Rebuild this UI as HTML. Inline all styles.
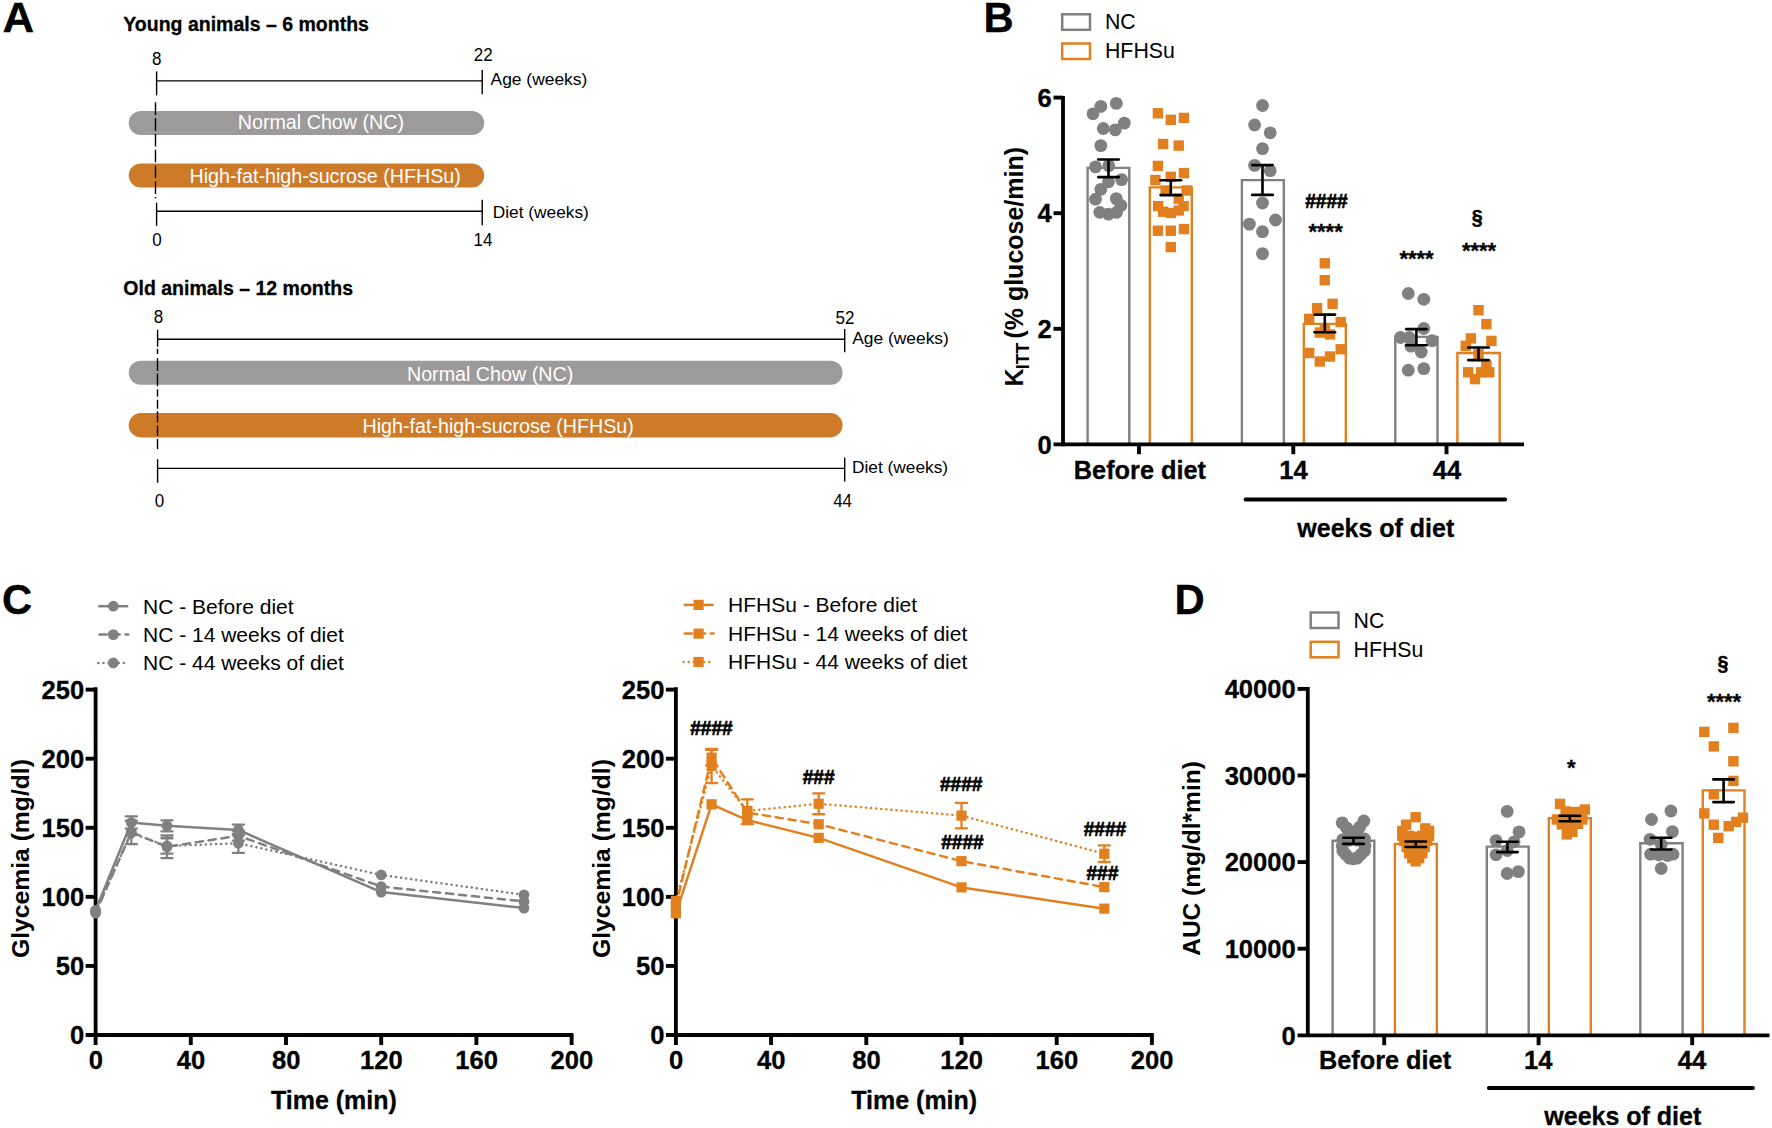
<!DOCTYPE html>
<html><head><meta charset="utf-8"><title>Figure</title>
<style>html,body{margin:0;padding:0;background:#fff}svg{display:block}text{font-family:"Liberation Sans",Arial,Helvetica,sans-serif}</style>
</head><body>
<svg width="1772" height="1128" viewBox="0 0 1772 1128">
<rect width="1772" height="1128" fill="#fff"/>
<text x="2.6" y="32.3" font-size="41.8" font-weight="bold" stroke="#000" stroke-width="0.3" textLength="31.7" lengthAdjust="spacingAndGlyphs">A</text>
<text x="983.6" y="32.3" font-size="41.8" font-weight="bold" stroke="#000" stroke-width="0.3">B</text>
<text x="2" y="614.2" font-size="41.8" font-weight="bold" stroke="#000" stroke-width="0.3">C</text>
<text x="1174.4" y="614.2" font-size="41.8" font-weight="bold" stroke="#000" stroke-width="0.3">D</text>
<text x="123.3" y="31.3" font-size="19.5" font-weight="bold" stroke="#000" stroke-width="0.3">Young animals – 6 months</text>
<text transform="translate(156.8 64.5) scale(1 1.04)" font-size="17" text-anchor="middle">8</text>
<text transform="translate(483.2 61.2) scale(1 1.04)" font-size="17" text-anchor="middle">22</text>
<line x1="156.6" y1="80.9" x2="482.2" y2="80.9" stroke="#000" stroke-width="1.4"/>
<line x1="482.2" y1="70" x2="482.2" y2="94.3" stroke="#000" stroke-width="1.4"/>
<text x="490.6" y="84.8" font-size="17.4">Age (weeks)</text>
<rect x="128.7" y="110.9" width="355.5" height="24.2" fill="#9C9A9A" rx="12.1"/>
<rect x="128.7" y="163.4" width="355.5" height="24.2" fill="#CE7B29" rx="12.1"/>
<text x="320.9" y="129.2" font-size="19.7" text-anchor="middle" fill="#fff">Normal Chow (NC)</text>
<text x="325.2" y="182.7" font-size="19.7" text-anchor="middle" fill="#fff">High-fat-high-sucrose (HFHSu)</text>
<line x1="156.6" y1="71.4" x2="156.6" y2="95.3" stroke="#000" stroke-width="1.4"/>
<line x1="155.5" y1="102.3" x2="155.5" y2="198.2" stroke="#000" stroke-width="1.4" stroke-dasharray="12.6 3.2"/>
<line x1="156.6" y1="211.2" x2="482.2" y2="211.2" stroke="#000" stroke-width="1.4"/>
<line x1="156.6" y1="202.6" x2="156.6" y2="225.8" stroke="#000" stroke-width="1.4"/>
<line x1="482.2" y1="199.8" x2="482.2" y2="225.2" stroke="#000" stroke-width="1.4"/>
<text x="492.8" y="218" font-size="17.3">Diet (weeks)</text>
<text transform="translate(157 246.4) scale(1 1.04)" font-size="17" text-anchor="middle">0</text>
<text transform="translate(482.9 246.4) scale(1 1.04)" font-size="17" text-anchor="middle">14</text>
<text x="123.3" y="294.8" font-size="19.5" font-weight="bold" stroke="#000" stroke-width="0.3">Old animals – 12 months</text>
<text transform="translate(158.4 323) scale(1 1.04)" font-size="17" text-anchor="middle">8</text>
<text transform="translate(845 323.6) scale(1 1.04)" font-size="17" text-anchor="middle">52</text>
<line x1="157.6" y1="339.3" x2="844.7" y2="339.3" stroke="#000" stroke-width="1.4"/>
<line x1="844.7" y1="328.9" x2="844.7" y2="352.3" stroke="#000" stroke-width="1.4"/>
<text x="852.2" y="344" font-size="17.4">Age (weeks)</text>
<rect x="128.7" y="360.8" width="713.9" height="24" fill="#9C9A9A" rx="12"/>
<rect x="128.7" y="413.1" width="713.9" height="24.3" fill="#CE7B29" rx="12.15"/>
<text x="490.1" y="380.9" font-size="19.7" text-anchor="middle" fill="#fff">Normal Chow (NC)</text>
<text x="498.2" y="433.4" font-size="19.7" text-anchor="middle" fill="#fff">High-fat-high-sucrose (HFHSu)</text>
<line x1="157.6" y1="329.8" x2="157.6" y2="346.6" stroke="#000" stroke-width="1.4"/>
<line x1="157.5" y1="348.7" x2="157.5" y2="449" stroke="#000" stroke-width="1.4" stroke-dasharray="5.2 4.3 12.8 2.4 12.8 3 7.6 3 9 2.4 11.3 3 10.5 3 10 100"/>
<line x1="157.6" y1="468.4" x2="844.7" y2="468.4" stroke="#000" stroke-width="1.4"/>
<line x1="157.6" y1="459.2" x2="157.6" y2="482.8" stroke="#000" stroke-width="1.4"/>
<line x1="844.7" y1="457.6" x2="844.7" y2="481.4" stroke="#000" stroke-width="1.4"/>
<text x="852" y="472.8" font-size="17.3">Diet (weeks)</text>
<text transform="translate(159.5 506.6) scale(1 1.04)" font-size="17" text-anchor="middle">0</text>
<text transform="translate(842.6 506.6) scale(1 1.04)" font-size="17" text-anchor="middle">44</text>
<rect x="1062.2" y="14.3" width="27.8" height="15.5" fill="none" stroke="#808080" stroke-width="2.5"/>
<rect x="1062.2" y="43.5" width="27.8" height="15.5" fill="none" stroke="#E28020" stroke-width="2.5"/>
<text transform="translate(1105 28.9) scale(1 1.04)" font-size="21.3">NC</text>
<text transform="translate(1105 58.1) scale(1 1.04)" font-size="21.3">HFHSu</text>
<path d="M1087.6 444.4 V167.9 H1129.3 V444.4" fill="none" stroke="#808080" stroke-width="2.4"/>
<path d="M1149.8 444.4 V187.4 H1191.8 V444.4" fill="none" stroke="#E28020" stroke-width="2.4"/>
<path d="M1241.9 444.4 V180.1 H1283.8 V444.4" fill="none" stroke="#808080" stroke-width="2.4"/>
<path d="M1303.8 444.4 V323.9 H1345.8 V444.4" fill="none" stroke="#E28020" stroke-width="2.4"/>
<path d="M1395.3 444.4 V336.9 H1437.5 V444.4" fill="none" stroke="#808080" stroke-width="2.4"/>
<path d="M1457.4 444.4 V353 H1499.7 V444.4" fill="none" stroke="#E28020" stroke-width="2.4"/>
<circle cx="1116.3" cy="103.4" r="6.4" fill="#808080"/>
<circle cx="1100.8" cy="106.4" r="6.4" fill="#808080"/>
<circle cx="1093" cy="113.8" r="6.4" fill="#808080"/>
<circle cx="1124.3" cy="123.1" r="6.4" fill="#808080"/>
<circle cx="1103.3" cy="128.5" r="6.4" fill="#808080"/>
<circle cx="1115.3" cy="129.9" r="6.4" fill="#808080"/>
<circle cx="1100.8" cy="145.6" r="6.4" fill="#808080"/>
<circle cx="1095.5" cy="166.9" r="6.4" fill="#808080"/>
<circle cx="1108.8" cy="165.7" r="6.4" fill="#808080"/>
<circle cx="1121.6" cy="179.6" r="6.4" fill="#808080"/>
<circle cx="1108.5" cy="181.8" r="6.4" fill="#808080"/>
<circle cx="1100.8" cy="189.3" r="6.4" fill="#808080"/>
<circle cx="1095.5" cy="199.2" r="6.4" fill="#808080"/>
<circle cx="1116.3" cy="198.6" r="6.4" fill="#808080"/>
<circle cx="1120.9" cy="205.4" r="6.4" fill="#808080"/>
<circle cx="1099.8" cy="212.3" r="6.4" fill="#808080"/>
<circle cx="1108.5" cy="214.1" r="6.4" fill="#808080"/>
<circle cx="1116.6" cy="212.3" r="6.4" fill="#808080"/>
<rect x="1152.7" y="108.1" width="10.4" height="10.4" fill="#E28020"/>
<rect x="1165.6" y="114.6" width="10.4" height="10.4" fill="#E28020"/>
<rect x="1178.7" y="112.7" width="10.4" height="10.4" fill="#E28020"/>
<rect x="1157.9" y="138.8" width="10.4" height="10.4" fill="#E28020"/>
<rect x="1173.5" y="140.4" width="10.4" height="10.4" fill="#E28020"/>
<rect x="1152.7" y="160.7" width="10.4" height="10.4" fill="#E28020"/>
<rect x="1178.7" y="167.9" width="10.4" height="10.4" fill="#E28020"/>
<rect x="1165.6" y="171.7" width="10.4" height="10.4" fill="#E28020"/>
<rect x="1150.2" y="174.8" width="10.4" height="10.4" fill="#E28020"/>
<rect x="1160.4" y="185.3" width="10.4" height="10.4" fill="#E28020"/>
<rect x="1181.5" y="185.3" width="10.4" height="10.4" fill="#E28020"/>
<rect x="1173.5" y="193.5" width="10.4" height="10.4" fill="#E28020"/>
<rect x="1153" y="200.9" width="10.4" height="10.4" fill="#E28020"/>
<rect x="1178.4" y="200.9" width="10.4" height="10.4" fill="#E28020"/>
<rect x="1157.9" y="206.5" width="10.4" height="10.4" fill="#E28020"/>
<rect x="1173.5" y="205.3" width="10.4" height="10.4" fill="#E28020"/>
<rect x="1165.6" y="207.8" width="10.4" height="10.4" fill="#E28020"/>
<rect x="1152.7" y="225.5" width="10.4" height="10.4" fill="#E28020"/>
<rect x="1165.6" y="225.5" width="10.4" height="10.4" fill="#E28020"/>
<rect x="1178.7" y="223.9" width="10.4" height="10.4" fill="#E28020"/>
<rect x="1165.6" y="241.9" width="10.4" height="10.4" fill="#E28020"/>
<circle cx="1262.5" cy="105.5" r="6.4" fill="#808080"/>
<circle cx="1254.6" cy="125" r="6.4" fill="#808080"/>
<circle cx="1270.2" cy="132.8" r="6.4" fill="#808080"/>
<circle cx="1262.5" cy="148.6" r="6.4" fill="#808080"/>
<circle cx="1254.6" cy="165.4" r="6.4" fill="#808080"/>
<circle cx="1270.2" cy="170.7" r="6.4" fill="#808080"/>
<circle cx="1262.5" cy="203" r="6.4" fill="#808080"/>
<circle cx="1275.5" cy="220" r="6.4" fill="#808080"/>
<circle cx="1249.4" cy="224.1" r="6.4" fill="#808080"/>
<circle cx="1262.5" cy="231.6" r="6.4" fill="#808080"/>
<circle cx="1262.5" cy="253.6" r="6.4" fill="#808080"/>
<rect x="1319.6" y="258.1" width="10.4" height="10.4" fill="#E28020"/>
<rect x="1319.6" y="275" width="10.4" height="10.4" fill="#E28020"/>
<rect x="1327.4" y="298.6" width="10.4" height="10.4" fill="#E28020"/>
<rect x="1311.9" y="302.9" width="10.4" height="10.4" fill="#E28020"/>
<rect x="1304" y="313.7" width="10.4" height="10.4" fill="#E28020"/>
<rect x="1335.5" y="316.8" width="10.4" height="10.4" fill="#E28020"/>
<rect x="1314.6" y="327.4" width="10.4" height="10.4" fill="#E28020"/>
<rect x="1324.8" y="329.2" width="10.4" height="10.4" fill="#E28020"/>
<rect x="1319.6" y="324.3" width="10.4" height="10.4" fill="#E28020"/>
<rect x="1335.5" y="344.1" width="10.4" height="10.4" fill="#E28020"/>
<rect x="1304" y="347.8" width="10.4" height="10.4" fill="#E28020"/>
<rect x="1324.8" y="351.3" width="10.4" height="10.4" fill="#E28020"/>
<rect x="1314.6" y="356.3" width="10.4" height="10.4" fill="#E28020"/>
<circle cx="1408.3" cy="293.5" r="6.4" fill="#808080"/>
<circle cx="1423.8" cy="299.3" r="6.4" fill="#808080"/>
<circle cx="1423.8" cy="328.5" r="6.4" fill="#808080"/>
<circle cx="1400.5" cy="337.5" r="6.4" fill="#808080"/>
<circle cx="1409.2" cy="337.5" r="6.4" fill="#808080"/>
<circle cx="1432.1" cy="340.6" r="6.4" fill="#808080"/>
<circle cx="1411" cy="346.2" r="6.4" fill="#808080"/>
<circle cx="1421.3" cy="352" r="6.4" fill="#808080"/>
<circle cx="1408.3" cy="370.2" r="6.4" fill="#808080"/>
<circle cx="1423.8" cy="368.6" r="6.4" fill="#808080"/>
<rect x="1473.3" y="305" width="10.4" height="10.4" fill="#E28020"/>
<rect x="1481.2" y="318.9" width="10.4" height="10.4" fill="#E28020"/>
<rect x="1465.7" y="333.2" width="10.4" height="10.4" fill="#E28020"/>
<rect x="1486.2" y="335.7" width="10.4" height="10.4" fill="#E28020"/>
<rect x="1460.5" y="340.6" width="10.4" height="10.4" fill="#E28020"/>
<rect x="1473.3" y="349.1" width="10.4" height="10.4" fill="#E28020"/>
<rect x="1481.2" y="360.3" width="10.4" height="10.4" fill="#E28020"/>
<rect x="1463" y="367.1" width="10.4" height="10.4" fill="#E28020"/>
<rect x="1476" y="367.1" width="10.4" height="10.4" fill="#E28020"/>
<rect x="1484.1" y="367.1" width="10.4" height="10.4" fill="#E28020"/>
<rect x="1469.8" y="373.9" width="10.4" height="10.4" fill="#E28020"/>
<line x1="1108.5" y1="159.5" x2="1108.5" y2="177.1" stroke="#000" stroke-width="2.6"/>
<line x1="1098.25" y1="159.5" x2="1118.75" y2="159.5" stroke="#000" stroke-width="2.6" stroke-linecap="round"/>
<line x1="1098.25" y1="177.1" x2="1118.75" y2="177.1" stroke="#000" stroke-width="2.6" stroke-linecap="round"/>
<line x1="1170.8" y1="180.3" x2="1170.8" y2="195.1" stroke="#000" stroke-width="2.6"/>
<line x1="1160.55" y1="180.3" x2="1181.05" y2="180.3" stroke="#000" stroke-width="2.6" stroke-linecap="round"/>
<line x1="1160.55" y1="195.1" x2="1181.05" y2="195.1" stroke="#000" stroke-width="2.6" stroke-linecap="round"/>
<line x1="1262.5" y1="165.1" x2="1262.5" y2="194.9" stroke="#000" stroke-width="2.6"/>
<line x1="1252.25" y1="165.1" x2="1272.75" y2="165.1" stroke="#000" stroke-width="2.6" stroke-linecap="round"/>
<line x1="1252.25" y1="194.9" x2="1272.75" y2="194.9" stroke="#000" stroke-width="2.6" stroke-linecap="round"/>
<line x1="1324.8" y1="314.6" x2="1324.8" y2="332.3" stroke="#000" stroke-width="2.6"/>
<line x1="1314.55" y1="314.6" x2="1335.05" y2="314.6" stroke="#000" stroke-width="2.6" stroke-linecap="round"/>
<line x1="1314.55" y1="332.3" x2="1335.05" y2="332.3" stroke="#000" stroke-width="2.6" stroke-linecap="round"/>
<line x1="1416.4" y1="329.1" x2="1416.4" y2="345.3" stroke="#000" stroke-width="2.6"/>
<line x1="1406.15" y1="329.1" x2="1426.65" y2="329.1" stroke="#000" stroke-width="2.6" stroke-linecap="round"/>
<line x1="1406.15" y1="345.3" x2="1426.65" y2="345.3" stroke="#000" stroke-width="2.6" stroke-linecap="round"/>
<line x1="1478.5" y1="347.5" x2="1478.5" y2="360.1" stroke="#000" stroke-width="2.6"/>
<line x1="1468.25" y1="347.5" x2="1488.75" y2="347.5" stroke="#000" stroke-width="2.6" stroke-linecap="round"/>
<line x1="1468.25" y1="360.1" x2="1488.75" y2="360.1" stroke="#000" stroke-width="2.6" stroke-linecap="round"/>
<line x1="1063" y1="96" x2="1063" y2="446.2" stroke="#000" stroke-width="3.8"/>
<line x1="1053.5" y1="444.4" x2="1524" y2="444.4" stroke="#000" stroke-width="3.8"/>
<text transform="translate(1051.8 453.6) scale(1 1.02)" font-size="25.6" text-anchor="end" font-weight="bold" stroke="#000" stroke-width="0.3">0</text>
<line x1="1053.5" y1="328.8" x2="1063" y2="328.8" stroke="#000" stroke-width="3.9"/>
<text transform="translate(1051.8 338) scale(1 1.02)" font-size="25.6" text-anchor="end" font-weight="bold" stroke="#000" stroke-width="0.3">2</text>
<line x1="1053.5" y1="213.2" x2="1063" y2="213.2" stroke="#000" stroke-width="3.9"/>
<text transform="translate(1051.8 222.4) scale(1 1.02)" font-size="25.6" text-anchor="end" font-weight="bold" stroke="#000" stroke-width="0.3">4</text>
<line x1="1053.5" y1="97.6" x2="1063" y2="97.6" stroke="#000" stroke-width="3.9"/>
<text transform="translate(1051.8 106.8) scale(1 1.02)" font-size="25.6" text-anchor="end" font-weight="bold" stroke="#000" stroke-width="0.3">6</text>
<line x1="1139" y1="444.4" x2="1139" y2="454.2" stroke="#000" stroke-width="3.9"/>
<line x1="1293.3" y1="444.4" x2="1293.3" y2="454.2" stroke="#000" stroke-width="3.9"/>
<line x1="1446.5" y1="444.4" x2="1446.5" y2="454.2" stroke="#000" stroke-width="3.9"/>
<text x="1139.9" y="478.8" font-size="25.3" text-anchor="middle" font-weight="bold" stroke="#000" stroke-width="0.3">Before diet</text>
<text transform="translate(1293.6 478.8) scale(1 1.02)" font-size="25.6" text-anchor="middle" font-weight="bold" stroke="#000" stroke-width="0.3">14</text>
<text transform="translate(1446.9 478.8) scale(1 1.02)" font-size="25.6" text-anchor="middle" font-weight="bold" stroke="#000" stroke-width="0.3">44</text>
<line x1="1245.5" y1="499.5" x2="1505.2" y2="499.5" stroke="#000" stroke-width="3.8" stroke-linecap="round"/>
<text x="1375.8" y="537.2" font-size="25" text-anchor="middle" font-weight="bold" stroke="#000" stroke-width="0.3">weeks of diet</text>
<text transform="translate(1023.0 386.6) rotate(-90)" font-size="25" font-weight="bold">K<tspan font-size="17.6" dy="6.2" dx="-0.6">ITT</tspan><tspan dy="-6.2" dx="-2.8"> (% glucose/min)</tspan></text>
<text x="1326.5" y="208.2" font-size="21" text-anchor="middle" font-weight="bold" textLength="42.5" lengthAdjust="spacingAndGlyphs" stroke="#000" stroke-width="0.7">####</text>
<text x="1325.6" y="239.3" font-size="22" text-anchor="middle" font-weight="bold" stroke="#000" stroke-width="0.3">****</text>
<text x="1416.5" y="265.8" font-size="22" text-anchor="middle" font-weight="bold" stroke="#000" stroke-width="0.3">****</text>
<text x="1479" y="257.5" font-size="22" text-anchor="middle" font-weight="bold" stroke="#000" stroke-width="0.3">****</text>
<text x="1477.2" y="223.8" font-size="19.5" text-anchor="middle" font-weight="bold" stroke="#000" stroke-width="0.5">§</text>
<line x1="95.6" y1="687.2" x2="95.6" y2="1036.8" stroke="#000" stroke-width="3.8"/>
<line x1="85.6" y1="1035" x2="573.4" y2="1035" stroke="#000" stroke-width="3.8"/>
<text transform="translate(84.2 1044.2) scale(1 1.02)" font-size="25.6" text-anchor="end" font-weight="bold" stroke="#000" stroke-width="0.3">0</text>
<line x1="85.6" y1="965.92" x2="95.6" y2="965.92" stroke="#000" stroke-width="3.9"/>
<text transform="translate(84.2 975.12) scale(1 1.02)" font-size="25.6" text-anchor="end" font-weight="bold" stroke="#000" stroke-width="0.3">50</text>
<line x1="85.6" y1="896.85" x2="95.6" y2="896.85" stroke="#000" stroke-width="3.9"/>
<text transform="translate(84.2 906.05) scale(1 1.02)" font-size="25.6" text-anchor="end" font-weight="bold" stroke="#000" stroke-width="0.3">100</text>
<line x1="85.6" y1="827.77" x2="95.6" y2="827.77" stroke="#000" stroke-width="3.9"/>
<text transform="translate(84.2 836.98) scale(1 1.02)" font-size="25.6" text-anchor="end" font-weight="bold" stroke="#000" stroke-width="0.3">150</text>
<line x1="85.6" y1="758.7" x2="95.6" y2="758.7" stroke="#000" stroke-width="3.9"/>
<text transform="translate(84.2 767.9) scale(1 1.02)" font-size="25.6" text-anchor="end" font-weight="bold" stroke="#000" stroke-width="0.3">200</text>
<line x1="85.6" y1="689.62" x2="95.6" y2="689.62" stroke="#000" stroke-width="3.9"/>
<text transform="translate(84.2 698.83) scale(1 1.02)" font-size="25.6" text-anchor="end" font-weight="bold" stroke="#000" stroke-width="0.3">250</text>
<line x1="95.6" y1="1035" x2="95.6" y2="1045" stroke="#000" stroke-width="3.9"/>
<text transform="translate(95.8 1068.5) scale(1 1.02)" font-size="25.6" text-anchor="middle" font-weight="bold" stroke="#000" stroke-width="0.3">0</text>
<line x1="190.8" y1="1035" x2="190.8" y2="1045" stroke="#000" stroke-width="3.9"/>
<text transform="translate(191 1068.5) scale(1 1.02)" font-size="25.6" text-anchor="middle" font-weight="bold" stroke="#000" stroke-width="0.3">40</text>
<line x1="286" y1="1035" x2="286" y2="1045" stroke="#000" stroke-width="3.9"/>
<text transform="translate(286.2 1068.5) scale(1 1.02)" font-size="25.6" text-anchor="middle" font-weight="bold" stroke="#000" stroke-width="0.3">80</text>
<line x1="381.2" y1="1035" x2="381.2" y2="1045" stroke="#000" stroke-width="3.9"/>
<text transform="translate(381.4 1068.5) scale(1 1.02)" font-size="25.6" text-anchor="middle" font-weight="bold" stroke="#000" stroke-width="0.3">120</text>
<line x1="476.4" y1="1035" x2="476.4" y2="1045" stroke="#000" stroke-width="3.9"/>
<text transform="translate(476.6 1068.5) scale(1 1.02)" font-size="25.6" text-anchor="middle" font-weight="bold" stroke="#000" stroke-width="0.3">160</text>
<line x1="571.6" y1="1035" x2="571.6" y2="1045" stroke="#000" stroke-width="3.9"/>
<text transform="translate(571.8 1068.5) scale(1 1.02)" font-size="25.6" text-anchor="middle" font-weight="bold" stroke="#000" stroke-width="0.3">200</text>
<text x="333.9" y="1108.8" font-size="25" text-anchor="middle" font-weight="bold" stroke="#000" stroke-width="0.3">Time (min)</text>
<text transform="translate(29.3 958) rotate(-90)" font-size="24.7" font-weight="bold">Glycemia (mg/dl)</text>
<path d="M95.6 910.3 L131.3 822.53 L167 825.84 L238.4 829.98 L381.2 892.08 L524 908.09" fill="none" stroke="#808080" stroke-width="2.5" stroke-linecap="round" stroke-linejoin="round"/>
<path d="M95.6 913.06 L131.3 832.19 L167 846.82 L238.4 835.78 L381.2 886.56 L524 901.47" fill="none" stroke="#808080" stroke-width="2.5" stroke-linecap="round" stroke-linejoin="round" stroke-dasharray="7.2 5.8"/>
<path d="M95.6 911.68 L131.3 833.02 L167 845.99 L238.4 843.23 L381.2 874.97 L524 894.84" fill="none" stroke="#808080" stroke-width="2.5" stroke-linecap="round" stroke-linejoin="round" stroke-dasharray="0.1 5.0"/>
<line x1="131.3" y1="816.46" x2="131.3" y2="828.6" stroke="#808080" stroke-width="2.3"/>
<line x1="125.7" y1="816.46" x2="136.9" y2="816.46" stroke="#808080" stroke-width="2.3" stroke-linecap="round"/>
<line x1="125.7" y1="828.6" x2="136.9" y2="828.6" stroke="#808080" stroke-width="2.3" stroke-linecap="round"/>
<line x1="131.3" y1="820.74" x2="131.3" y2="844.2" stroke="#808080" stroke-width="2.3"/>
<line x1="125.7" y1="820.74" x2="136.9" y2="820.74" stroke="#808080" stroke-width="2.3" stroke-linecap="round"/>
<line x1="125.7" y1="844.2" x2="136.9" y2="844.2" stroke="#808080" stroke-width="2.3" stroke-linecap="round"/>
<line x1="167" y1="820.32" x2="167" y2="831.36" stroke="#808080" stroke-width="2.3"/>
<line x1="161.4" y1="820.32" x2="172.6" y2="820.32" stroke="#808080" stroke-width="2.3" stroke-linecap="round"/>
<line x1="161.4" y1="831.36" x2="172.6" y2="831.36" stroke="#808080" stroke-width="2.3" stroke-linecap="round"/>
<line x1="167" y1="835.5" x2="167" y2="858.14" stroke="#808080" stroke-width="2.3"/>
<line x1="161.4" y1="835.5" x2="172.6" y2="835.5" stroke="#808080" stroke-width="2.3" stroke-linecap="round"/>
<line x1="161.4" y1="858.14" x2="172.6" y2="858.14" stroke="#808080" stroke-width="2.3" stroke-linecap="round"/>
<line x1="167" y1="838.26" x2="167" y2="853.72" stroke="#808080" stroke-width="2.3"/>
<line x1="161.4" y1="838.26" x2="172.6" y2="838.26" stroke="#808080" stroke-width="2.3" stroke-linecap="round"/>
<line x1="161.4" y1="853.72" x2="172.6" y2="853.72" stroke="#808080" stroke-width="2.3" stroke-linecap="round"/>
<line x1="238.4" y1="824.6" x2="238.4" y2="835.37" stroke="#808080" stroke-width="2.3"/>
<line x1="232.8" y1="824.6" x2="244" y2="824.6" stroke="#808080" stroke-width="2.3" stroke-linecap="round"/>
<line x1="232.8" y1="835.37" x2="244" y2="835.37" stroke="#808080" stroke-width="2.3" stroke-linecap="round"/>
<line x1="238.4" y1="833.57" x2="238.4" y2="852.89" stroke="#808080" stroke-width="2.3"/>
<line x1="232.8" y1="833.57" x2="244" y2="833.57" stroke="#808080" stroke-width="2.3" stroke-linecap="round"/>
<line x1="232.8" y1="852.89" x2="244" y2="852.89" stroke="#808080" stroke-width="2.3" stroke-linecap="round"/>
<line x1="238.4" y1="830.95" x2="238.4" y2="840.61" stroke="#808080" stroke-width="2.3"/>
<line x1="232.8" y1="830.95" x2="244" y2="830.95" stroke="#808080" stroke-width="2.3" stroke-linecap="round"/>
<line x1="232.8" y1="840.61" x2="244" y2="840.61" stroke="#808080" stroke-width="2.3" stroke-linecap="round"/>
<circle cx="95.6" cy="910.3" r="5.4" fill="#808080"/>
<circle cx="131.3" cy="822.53" r="5.4" fill="#808080"/>
<circle cx="167" cy="825.84" r="5.4" fill="#808080"/>
<circle cx="238.4" cy="829.98" r="5.4" fill="#808080"/>
<circle cx="381.2" cy="892.08" r="5.4" fill="#808080"/>
<circle cx="524" cy="908.09" r="5.4" fill="#808080"/>
<circle cx="95.6" cy="913.06" r="5.4" fill="#808080"/>
<circle cx="131.3" cy="832.19" r="5.4" fill="#808080"/>
<circle cx="167" cy="846.82" r="5.4" fill="#808080"/>
<circle cx="238.4" cy="835.78" r="5.4" fill="#808080"/>
<circle cx="381.2" cy="886.56" r="5.4" fill="#808080"/>
<circle cx="524" cy="901.47" r="5.4" fill="#808080"/>
<circle cx="95.6" cy="911.68" r="5.4" fill="#808080"/>
<circle cx="131.3" cy="833.02" r="5.4" fill="#808080"/>
<circle cx="167" cy="845.99" r="5.4" fill="#808080"/>
<circle cx="238.4" cy="843.23" r="5.4" fill="#808080"/>
<circle cx="381.2" cy="874.97" r="5.4" fill="#808080"/>
<circle cx="524" cy="894.84" r="5.4" fill="#808080"/>
<line x1="98.3" y1="606.2" x2="128.3" y2="606.2" stroke="#808080" stroke-width="2.5"/>
<circle cx="113.3" cy="606.2" r="5.4" fill="#808080"/>
<text x="143" y="613.6" font-size="21">NC - Before diet</text>
<line x1="98.3" y1="634.6" x2="128.3" y2="634.6" stroke="#808080" stroke-width="2.5" stroke-dasharray="7.2 5.8" stroke-dashoffset="-1.2" stroke-linecap="round"/>
<circle cx="113.3" cy="634.6" r="5.4" fill="#808080"/>
<text x="143" y="642" font-size="21">NC - 14 weeks of diet</text>
<line x1="98.3" y1="663" x2="128.3" y2="663" stroke="#808080" stroke-width="2.5" stroke-dasharray="0.1 5.0" stroke-linecap="round"/>
<circle cx="113.3" cy="663" r="5.4" fill="#808080"/>
<text x="143" y="670.4" font-size="21">NC - 44 weeks of diet</text>
<line x1="675.9" y1="687.2" x2="675.9" y2="1036.8" stroke="#000" stroke-width="3.8"/>
<line x1="665.9" y1="1035" x2="1153.7" y2="1035" stroke="#000" stroke-width="3.8"/>
<text transform="translate(664.5 1044.2) scale(1 1.02)" font-size="25.6" text-anchor="end" font-weight="bold" stroke="#000" stroke-width="0.3">0</text>
<line x1="665.9" y1="965.92" x2="675.9" y2="965.92" stroke="#000" stroke-width="3.9"/>
<text transform="translate(664.5 975.12) scale(1 1.02)" font-size="25.6" text-anchor="end" font-weight="bold" stroke="#000" stroke-width="0.3">50</text>
<line x1="665.9" y1="896.85" x2="675.9" y2="896.85" stroke="#000" stroke-width="3.9"/>
<text transform="translate(664.5 906.05) scale(1 1.02)" font-size="25.6" text-anchor="end" font-weight="bold" stroke="#000" stroke-width="0.3">100</text>
<line x1="665.9" y1="827.77" x2="675.9" y2="827.77" stroke="#000" stroke-width="3.9"/>
<text transform="translate(664.5 836.98) scale(1 1.02)" font-size="25.6" text-anchor="end" font-weight="bold" stroke="#000" stroke-width="0.3">150</text>
<line x1="665.9" y1="758.7" x2="675.9" y2="758.7" stroke="#000" stroke-width="3.9"/>
<text transform="translate(664.5 767.9) scale(1 1.02)" font-size="25.6" text-anchor="end" font-weight="bold" stroke="#000" stroke-width="0.3">200</text>
<line x1="665.9" y1="689.62" x2="675.9" y2="689.62" stroke="#000" stroke-width="3.9"/>
<text transform="translate(664.5 698.83) scale(1 1.02)" font-size="25.6" text-anchor="end" font-weight="bold" stroke="#000" stroke-width="0.3">250</text>
<line x1="675.9" y1="1035" x2="675.9" y2="1045" stroke="#000" stroke-width="3.9"/>
<text transform="translate(676.1 1068.5) scale(1 1.02)" font-size="25.6" text-anchor="middle" font-weight="bold" stroke="#000" stroke-width="0.3">0</text>
<line x1="771.1" y1="1035" x2="771.1" y2="1045" stroke="#000" stroke-width="3.9"/>
<text transform="translate(771.3 1068.5) scale(1 1.02)" font-size="25.6" text-anchor="middle" font-weight="bold" stroke="#000" stroke-width="0.3">40</text>
<line x1="866.3" y1="1035" x2="866.3" y2="1045" stroke="#000" stroke-width="3.9"/>
<text transform="translate(866.5 1068.5) scale(1 1.02)" font-size="25.6" text-anchor="middle" font-weight="bold" stroke="#000" stroke-width="0.3">80</text>
<line x1="961.5" y1="1035" x2="961.5" y2="1045" stroke="#000" stroke-width="3.9"/>
<text transform="translate(961.7 1068.5) scale(1 1.02)" font-size="25.6" text-anchor="middle" font-weight="bold" stroke="#000" stroke-width="0.3">120</text>
<line x1="1056.7" y1="1035" x2="1056.7" y2="1045" stroke="#000" stroke-width="3.9"/>
<text transform="translate(1056.9 1068.5) scale(1 1.02)" font-size="25.6" text-anchor="middle" font-weight="bold" stroke="#000" stroke-width="0.3">160</text>
<line x1="1151.9" y1="1035" x2="1151.9" y2="1045" stroke="#000" stroke-width="3.9"/>
<text transform="translate(1152.1 1068.5) scale(1 1.02)" font-size="25.6" text-anchor="middle" font-weight="bold" stroke="#000" stroke-width="0.3">200</text>
<text x="914.2" y="1108.8" font-size="25" text-anchor="middle" font-weight="bold" stroke="#000" stroke-width="0.3">Time (min)</text>
<text transform="translate(609.6 958) rotate(-90)" font-size="24.7" font-weight="bold">Glycemia (mg/dl)</text>
<path d="M675.9 913.34 L711.6 804.32 L747.3 820.05 L818.7 837.85 L961.5 887.39 L1104.3 908.64" fill="none" stroke="#E28020" stroke-width="2.5" stroke-linecap="round" stroke-linejoin="round"/>
<path d="M675.9 906.16 L711.6 757.67 L747.3 812.6 L818.7 824.19 L961.5 861.17 L1104.3 887.12" fill="none" stroke="#E28020" stroke-width="2.5" stroke-linecap="round" stroke-linejoin="round" stroke-dasharray="7.2 5.8"/>
<path d="M675.9 900.92 L711.6 765.95 L747.3 810.94 L818.7 803.76 L961.5 815.63 L1104.3 853.72" fill="none" stroke="#E28020" stroke-width="2.5" stroke-linecap="round" stroke-linejoin="round" stroke-dasharray="0.1 5.0"/>
<line x1="711.6" y1="749.94" x2="711.6" y2="765.4" stroke="#E28020" stroke-width="2.3"/>
<line x1="706" y1="749.94" x2="717.2" y2="749.94" stroke="#E28020" stroke-width="2.3" stroke-linecap="round"/>
<line x1="706" y1="765.4" x2="717.2" y2="765.4" stroke="#E28020" stroke-width="2.3" stroke-linecap="round"/>
<line x1="711.6" y1="748.84" x2="711.6" y2="783.06" stroke="#E28020" stroke-width="2.3"/>
<line x1="706" y1="748.84" x2="717.2" y2="748.84" stroke="#E28020" stroke-width="2.3" stroke-linecap="round"/>
<line x1="706" y1="783.06" x2="717.2" y2="783.06" stroke="#E28020" stroke-width="2.3" stroke-linecap="round"/>
<line x1="747.3" y1="799.35" x2="747.3" y2="824.19" stroke="#E28020" stroke-width="2.3"/>
<line x1="741.7" y1="799.35" x2="752.9" y2="799.35" stroke="#E28020" stroke-width="2.3" stroke-linecap="round"/>
<line x1="741.7" y1="824.19" x2="752.9" y2="824.19" stroke="#E28020" stroke-width="2.3" stroke-linecap="round"/>
<line x1="818.7" y1="793.28" x2="818.7" y2="814.25" stroke="#E28020" stroke-width="2.3"/>
<line x1="813.1" y1="793.28" x2="824.3" y2="793.28" stroke="#E28020" stroke-width="2.3" stroke-linecap="round"/>
<line x1="813.1" y1="814.25" x2="824.3" y2="814.25" stroke="#E28020" stroke-width="2.3" stroke-linecap="round"/>
<line x1="961.5" y1="802.94" x2="961.5" y2="828.33" stroke="#E28020" stroke-width="2.3"/>
<line x1="955.9" y1="802.94" x2="967.1" y2="802.94" stroke="#E28020" stroke-width="2.3" stroke-linecap="round"/>
<line x1="955.9" y1="828.33" x2="967.1" y2="828.33" stroke="#E28020" stroke-width="2.3" stroke-linecap="round"/>
<line x1="1104.3" y1="845.44" x2="1104.3" y2="862" stroke="#E28020" stroke-width="2.3"/>
<line x1="1098.7" y1="845.44" x2="1109.9" y2="845.44" stroke="#E28020" stroke-width="2.3" stroke-linecap="round"/>
<line x1="1098.7" y1="862" x2="1109.9" y2="862" stroke="#E28020" stroke-width="2.3" stroke-linecap="round"/>
<rect x="670.8" y="908.24" width="10.2" height="10.2" fill="#E28020"/>
<rect x="706.5" y="799.22" width="10.2" height="10.2" fill="#E28020"/>
<rect x="742.2" y="814.95" width="10.2" height="10.2" fill="#E28020"/>
<rect x="813.6" y="832.75" width="10.2" height="10.2" fill="#E28020"/>
<rect x="956.4" y="882.29" width="10.2" height="10.2" fill="#E28020"/>
<rect x="1099.2" y="903.54" width="10.2" height="10.2" fill="#E28020"/>
<rect x="670.8" y="901.06" width="10.2" height="10.2" fill="#E28020"/>
<rect x="706.5" y="752.57" width="10.2" height="10.2" fill="#E28020"/>
<rect x="742.2" y="807.5" width="10.2" height="10.2" fill="#E28020"/>
<rect x="813.6" y="819.09" width="10.2" height="10.2" fill="#E28020"/>
<rect x="956.4" y="856.07" width="10.2" height="10.2" fill="#E28020"/>
<rect x="1099.2" y="882.02" width="10.2" height="10.2" fill="#E28020"/>
<rect x="670.8" y="895.82" width="10.2" height="10.2" fill="#E28020"/>
<rect x="706.5" y="760.85" width="10.2" height="10.2" fill="#E28020"/>
<rect x="742.2" y="805.84" width="10.2" height="10.2" fill="#E28020"/>
<rect x="813.6" y="798.66" width="10.2" height="10.2" fill="#E28020"/>
<rect x="956.4" y="810.53" width="10.2" height="10.2" fill="#E28020"/>
<rect x="1099.2" y="848.62" width="10.2" height="10.2" fill="#E28020"/>
<line x1="683.6" y1="604.9" x2="713.6" y2="604.9" stroke="#E28020" stroke-width="2.5"/>
<rect x="693.5" y="599.8" width="10.2" height="10.2" fill="#E28020"/>
<text x="728" y="612.3" font-size="21">HFHSu - Before diet</text>
<line x1="683.6" y1="633.6" x2="713.6" y2="633.6" stroke="#E28020" stroke-width="2.5" stroke-dasharray="7.2 5.8" stroke-dashoffset="-1.2" stroke-linecap="round"/>
<rect x="693.5" y="628.5" width="10.2" height="10.2" fill="#E28020"/>
<text x="728" y="641" font-size="21">HFHSu - 14 weeks of diet</text>
<line x1="683.6" y1="662" x2="713.6" y2="662" stroke="#E28020" stroke-width="2.5" stroke-dasharray="0.1 5.0" stroke-linecap="round"/>
<rect x="693.5" y="656.9" width="10.2" height="10.2" fill="#E28020"/>
<text x="728" y="669.4" font-size="21">HFHSu - 44 weeks of diet</text>
<text x="711.4" y="734.6" font-size="21" text-anchor="middle" font-weight="bold" textLength="42.5" lengthAdjust="spacingAndGlyphs" stroke="#000" stroke-width="0.7">####</text>
<text x="818.7" y="784.2" font-size="21" text-anchor="middle" font-weight="bold" textLength="32" lengthAdjust="spacingAndGlyphs" stroke="#000" stroke-width="0.7">###</text>
<text x="961.2" y="791.1" font-size="21" text-anchor="middle" font-weight="bold" textLength="42.5" lengthAdjust="spacingAndGlyphs" stroke="#000" stroke-width="0.7">####</text>
<text x="962.4" y="848.7" font-size="21" text-anchor="middle" font-weight="bold" textLength="42.5" lengthAdjust="spacingAndGlyphs" stroke="#000" stroke-width="0.7">####</text>
<text x="1104.9" y="836.4" font-size="21" text-anchor="middle" font-weight="bold" textLength="42.5" lengthAdjust="spacingAndGlyphs" stroke="#000" stroke-width="0.7">####</text>
<text x="1102.4" y="880.1" font-size="21" text-anchor="middle" font-weight="bold" textLength="32" lengthAdjust="spacingAndGlyphs" stroke="#000" stroke-width="0.7">###</text>
<rect x="1310.7" y="612.5" width="27.8" height="15.5" fill="none" stroke="#808080" stroke-width="2.5"/>
<rect x="1310.7" y="641.8" width="27.8" height="15.5" fill="none" stroke="#E28020" stroke-width="2.5"/>
<text transform="translate(1353.6 627.5) scale(1 1.04)" font-size="21.3">NC</text>
<text transform="translate(1353.6 656.5) scale(1 1.04)" font-size="21.3">HFHSu</text>
<path d="M1332.6 1035.3 V840.8 H1374.3 V1035.3" fill="none" stroke="#808080" stroke-width="2.4"/>
<path d="M1394.9 1035.3 V843.9 H1436.8 V1035.3" fill="none" stroke="#E28020" stroke-width="2.4"/>
<path d="M1486.8 1035.3 V846.6 H1528.7 V1035.3" fill="none" stroke="#808080" stroke-width="2.4"/>
<path d="M1548.8 1035.3 V818.2 H1590.8 V1035.3" fill="none" stroke="#E28020" stroke-width="2.4"/>
<path d="M1640.3 1035.3 V843.3 H1682.6 V1035.3" fill="none" stroke="#808080" stroke-width="2.4"/>
<path d="M1702.8 1035.3 V790.4 H1744.5 V1035.3" fill="none" stroke="#E28020" stroke-width="2.4"/>
<circle cx="1342.14" cy="822.83" r="6.4" fill="#808080"/>
<circle cx="1363.87" cy="820.97" r="6.4" fill="#808080"/>
<circle cx="1346.49" cy="827.8" r="6.4" fill="#808080"/>
<circle cx="1359.52" cy="827.18" r="6.4" fill="#808080"/>
<circle cx="1353.31" cy="833.38" r="6.4" fill="#808080"/>
<circle cx="1349.59" cy="830.9" r="6.4" fill="#808080"/>
<circle cx="1357.04" cy="830.9" r="6.4" fill="#808080"/>
<circle cx="1342.76" cy="839.59" r="6.4" fill="#808080"/>
<circle cx="1364.49" cy="838.97" r="6.4" fill="#808080"/>
<circle cx="1342.14" cy="845.8" r="6.4" fill="#808080"/>
<circle cx="1365.11" cy="845.8" r="6.4" fill="#808080"/>
<circle cx="1342.76" cy="850.76" r="6.4" fill="#808080"/>
<circle cx="1364.49" cy="850.76" r="6.4" fill="#808080"/>
<circle cx="1348.97" cy="840.21" r="6.4" fill="#808080"/>
<circle cx="1357.66" cy="840.21" r="6.4" fill="#808080"/>
<circle cx="1345.87" cy="854.49" r="6.4" fill="#808080"/>
<circle cx="1360.76" cy="854.49" r="6.4" fill="#808080"/>
<circle cx="1349.59" cy="858.21" r="6.4" fill="#808080"/>
<circle cx="1357.04" cy="858.21" r="6.4" fill="#808080"/>
<circle cx="1353.31" cy="858.83" r="6.4" fill="#808080"/>
<rect x="1410.44" y="812.04" width="10.4" height="10.4" fill="#E28020"/>
<rect x="1400.88" y="819.49" width="10.4" height="10.4" fill="#E28020"/>
<rect x="1420.12" y="823.22" width="10.4" height="10.4" fill="#E28020"/>
<rect x="1397.15" y="825.7" width="10.4" height="10.4" fill="#E28020"/>
<rect x="1423.84" y="825.7" width="10.4" height="10.4" fill="#E28020"/>
<rect x="1403.98" y="830.67" width="10.4" height="10.4" fill="#E28020"/>
<rect x="1417.02" y="830.67" width="10.4" height="10.4" fill="#E28020"/>
<rect x="1410.44" y="831.66" width="10.4" height="10.4" fill="#E28020"/>
<rect x="1399.01" y="835.63" width="10.4" height="10.4" fill="#E28020"/>
<rect x="1421.98" y="835.63" width="10.4" height="10.4" fill="#E28020"/>
<rect x="1401.5" y="841.84" width="10.4" height="10.4" fill="#E28020"/>
<rect x="1419.5" y="841.84" width="10.4" height="10.4" fill="#E28020"/>
<rect x="1410.44" y="844.32" width="10.4" height="10.4" fill="#E28020"/>
<rect x="1403.98" y="848.05" width="10.4" height="10.4" fill="#E28020"/>
<rect x="1417.02" y="848.05" width="10.4" height="10.4" fill="#E28020"/>
<rect x="1410.44" y="851.77" width="10.4" height="10.4" fill="#E28020"/>
<rect x="1410.44" y="856.12" width="10.4" height="10.4" fill="#E28020"/>
<rect x="1407.08" y="853.01" width="10.4" height="10.4" fill="#E28020"/>
<rect x="1413.91" y="853.01" width="10.4" height="10.4" fill="#E28020"/>
<rect x="1397.15" y="830.67" width="10.4" height="10.4" fill="#E28020"/>
<rect x="1423.84" y="830.67" width="10.4" height="10.4" fill="#E28020"/>
<rect x="1410.44" y="838.11" width="10.4" height="10.4" fill="#E28020"/>
<circle cx="1507.2" cy="811.4" r="6.4" fill="#808080"/>
<circle cx="1519" cy="831.9" r="6.4" fill="#808080"/>
<circle cx="1496.1" cy="840.6" r="6.4" fill="#808080"/>
<circle cx="1514.1" cy="841.8" r="6.4" fill="#808080"/>
<circle cx="1507.2" cy="850.5" r="6.4" fill="#808080"/>
<circle cx="1496.1" cy="854.8" r="6.4" fill="#808080"/>
<circle cx="1507.2" cy="873.5" r="6.4" fill="#808080"/>
<circle cx="1518.4" cy="871.6" r="6.4" fill="#808080"/>
<rect x="1554.8" y="798.7" width="10.4" height="10.4" fill="#E28020"/>
<rect x="1579.6" y="804.3" width="10.4" height="10.4" fill="#E28020"/>
<rect x="1560.4" y="806.2" width="10.4" height="10.4" fill="#E28020"/>
<rect x="1570.3" y="806.8" width="10.4" height="10.4" fill="#E28020"/>
<rect x="1551.7" y="814.3" width="10.4" height="10.4" fill="#E28020"/>
<rect x="1564.1" y="814.3" width="10.4" height="10.4" fill="#E28020"/>
<rect x="1577.2" y="814.3" width="10.4" height="10.4" fill="#E28020"/>
<rect x="1556.7" y="819.2" width="10.4" height="10.4" fill="#E28020"/>
<rect x="1572.8" y="818.6" width="10.4" height="10.4" fill="#E28020"/>
<rect x="1564.1" y="821.7" width="10.4" height="10.4" fill="#E28020"/>
<rect x="1561.6" y="829.2" width="10.4" height="10.4" fill="#E28020"/>
<rect x="1567.2" y="826.7" width="10.4" height="10.4" fill="#E28020"/>
<circle cx="1670.9" cy="811" r="6.4" fill="#808080"/>
<circle cx="1651.5" cy="819.5" r="6.4" fill="#808080"/>
<circle cx="1672.4" cy="831.6" r="6.4" fill="#808080"/>
<circle cx="1650" cy="839.3" r="6.4" fill="#808080"/>
<circle cx="1661.2" cy="844.3" r="6.4" fill="#808080"/>
<circle cx="1650.6" cy="854.2" r="6.4" fill="#808080"/>
<circle cx="1658.7" cy="854.8" r="6.4" fill="#808080"/>
<circle cx="1667.4" cy="855.5" r="6.4" fill="#808080"/>
<circle cx="1673" cy="854.2" r="6.4" fill="#808080"/>
<circle cx="1661.2" cy="868.5" r="6.4" fill="#808080"/>
<rect x="1699.1" y="726.7" width="10.4" height="10.4" fill="#E28020"/>
<rect x="1728.2" y="722.7" width="10.4" height="10.4" fill="#E28020"/>
<rect x="1708.6" y="741.2" width="10.4" height="10.4" fill="#E28020"/>
<rect x="1728.2" y="756.1" width="10.4" height="10.4" fill="#E28020"/>
<rect x="1728.2" y="775.7" width="10.4" height="10.4" fill="#E28020"/>
<rect x="1708.6" y="789.1" width="10.4" height="10.4" fill="#E28020"/>
<rect x="1699.1" y="808.2" width="10.4" height="10.4" fill="#E28020"/>
<rect x="1737.8" y="812.5" width="10.4" height="10.4" fill="#E28020"/>
<rect x="1708.6" y="819.5" width="10.4" height="10.4" fill="#E28020"/>
<rect x="1731" y="816.7" width="10.4" height="10.4" fill="#E28020"/>
<rect x="1723.5" y="821" width="10.4" height="10.4" fill="#E28020"/>
<rect x="1713.1" y="832.7" width="10.4" height="10.4" fill="#E28020"/>
<line x1="1353.5" y1="837.7" x2="1353.5" y2="843.9" stroke="#000" stroke-width="2.6"/>
<line x1="1343.25" y1="837.7" x2="1363.75" y2="837.7" stroke="#000" stroke-width="2.6" stroke-linecap="round"/>
<line x1="1343.25" y1="843.9" x2="1363.75" y2="843.9" stroke="#000" stroke-width="2.6" stroke-linecap="round"/>
<line x1="1415.8" y1="841.5" x2="1415.8" y2="847" stroke="#000" stroke-width="2.6"/>
<line x1="1405.55" y1="841.5" x2="1426.05" y2="841.5" stroke="#000" stroke-width="2.6" stroke-linecap="round"/>
<line x1="1405.55" y1="847" x2="1426.05" y2="847" stroke="#000" stroke-width="2.6" stroke-linecap="round"/>
<line x1="1507.4" y1="841.8" x2="1507.4" y2="852.1" stroke="#000" stroke-width="2.6"/>
<line x1="1497.15" y1="841.8" x2="1517.65" y2="841.8" stroke="#000" stroke-width="2.6" stroke-linecap="round"/>
<line x1="1497.15" y1="852.1" x2="1517.65" y2="852.1" stroke="#000" stroke-width="2.6" stroke-linecap="round"/>
<line x1="1569.8" y1="815.7" x2="1569.8" y2="821.3" stroke="#000" stroke-width="2.6"/>
<line x1="1559.55" y1="815.7" x2="1580.05" y2="815.7" stroke="#000" stroke-width="2.6" stroke-linecap="round"/>
<line x1="1559.55" y1="821.3" x2="1580.05" y2="821.3" stroke="#000" stroke-width="2.6" stroke-linecap="round"/>
<line x1="1661.2" y1="837.8" x2="1661.2" y2="849.5" stroke="#000" stroke-width="2.6"/>
<line x1="1650.95" y1="837.8" x2="1671.45" y2="837.8" stroke="#000" stroke-width="2.6" stroke-linecap="round"/>
<line x1="1650.95" y1="849.5" x2="1671.45" y2="849.5" stroke="#000" stroke-width="2.6" stroke-linecap="round"/>
<line x1="1723.6" y1="779.4" x2="1723.6" y2="802.1" stroke="#000" stroke-width="2.6"/>
<line x1="1713.35" y1="779.4" x2="1733.85" y2="779.4" stroke="#000" stroke-width="2.6" stroke-linecap="round"/>
<line x1="1713.35" y1="802.1" x2="1733.85" y2="802.1" stroke="#000" stroke-width="2.6" stroke-linecap="round"/>
<line x1="1307.8" y1="687" x2="1307.8" y2="1037.1" stroke="#000" stroke-width="3.8"/>
<line x1="1297.6" y1="1035.3" x2="1769.5" y2="1035.3" stroke="#000" stroke-width="3.8"/>
<text transform="translate(1295.8 1044.5) scale(1 1.02)" font-size="25.6" text-anchor="end" font-weight="bold" stroke="#000" stroke-width="0.3">0</text>
<line x1="1297.6" y1="948.7" x2="1307.8" y2="948.7" stroke="#000" stroke-width="3.9"/>
<text transform="translate(1295.8 957.9) scale(1 1.02)" font-size="25.6" text-anchor="end" font-weight="bold" stroke="#000" stroke-width="0.3">10000</text>
<line x1="1297.6" y1="862.1" x2="1307.8" y2="862.1" stroke="#000" stroke-width="3.9"/>
<text transform="translate(1295.8 871.3) scale(1 1.02)" font-size="25.6" text-anchor="end" font-weight="bold" stroke="#000" stroke-width="0.3">20000</text>
<line x1="1297.6" y1="775.5" x2="1307.8" y2="775.5" stroke="#000" stroke-width="3.9"/>
<text transform="translate(1295.8 784.7) scale(1 1.02)" font-size="25.6" text-anchor="end" font-weight="bold" stroke="#000" stroke-width="0.3">30000</text>
<line x1="1297.6" y1="688.9" x2="1307.8" y2="688.9" stroke="#000" stroke-width="3.9"/>
<text transform="translate(1295.8 698.1) scale(1 1.02)" font-size="25.6" text-anchor="end" font-weight="bold" stroke="#000" stroke-width="0.3">40000</text>
<line x1="1384.2" y1="1035.3" x2="1384.2" y2="1045.2" stroke="#000" stroke-width="3.9"/>
<line x1="1538.6" y1="1035.3" x2="1538.6" y2="1045.2" stroke="#000" stroke-width="3.9"/>
<line x1="1692.2" y1="1035.3" x2="1692.2" y2="1045.2" stroke="#000" stroke-width="3.9"/>
<text x="1385" y="1068.9" font-size="25.3" text-anchor="middle" font-weight="bold" stroke="#000" stroke-width="0.3">Before diet</text>
<text transform="translate(1538.3 1068.9) scale(1 1.02)" font-size="25.6" text-anchor="middle" font-weight="bold" stroke="#000" stroke-width="0.3">14</text>
<text transform="translate(1692 1068.9) scale(1 1.02)" font-size="25.6" text-anchor="middle" font-weight="bold" stroke="#000" stroke-width="0.3">44</text>
<line x1="1488.8" y1="1088" x2="1753" y2="1088" stroke="#000" stroke-width="3.8" stroke-linecap="round"/>
<text x="1622.8" y="1125" font-size="25" text-anchor="middle" font-weight="bold" stroke="#000" stroke-width="0.3">weeks of diet</text>
<text transform="translate(1199.8 955.8) rotate(-90)" font-size="24.5" font-weight="bold">AUC (mg/dl*min)</text>
<text x="1571.2" y="775" font-size="22" text-anchor="middle" font-weight="bold" stroke="#000" stroke-width="0.3">*</text>
<text x="1724" y="708.8" font-size="22" text-anchor="middle" font-weight="bold" stroke="#000" stroke-width="0.3">****</text>
<text x="1722.9" y="670.2" font-size="19.5" text-anchor="middle" font-weight="bold" stroke="#000" stroke-width="0.5">§</text>
</svg></body></html>
